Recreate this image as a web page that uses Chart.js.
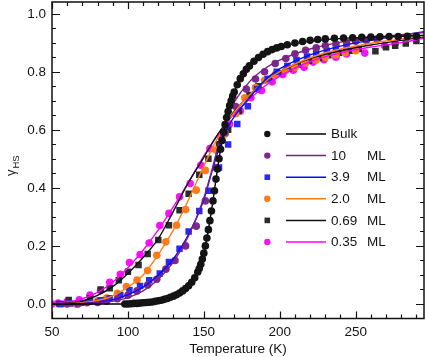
<!DOCTYPE html>
<html>
<head>
<meta charset="utf-8">
<script src="https://cdn.jsdelivr.net/npm/chart.js@4/dist/chart.umd.min.js"></script>
<style>
html,body{margin:0;padding:0;background:#fff;overflow:hidden;}
canvas{display:block;}
</style>
</head>
<body>
<canvas id="c" width="425" height="357"></canvas>
<script>
// ---------- data ----------
const xTickLabels = [50, 100, 150, 200, 250];
const yTickLabels = [0.0, 0.2, 0.4, 0.6, 0.8, 1.0];

const legendLabels = ['Bulk', '10', '3.9', '2.0', '0.69', '0.35'];
const legendUnits  = ['', 'ML', 'ML', 'ML', 'ML', 'ML'];

// Bulk (black circles)
const bulkT = [98,100,102,104,106,108,110,112,114,116,118,120,122,124,126,128,130,132,134,136,138,140,142,144,146,
  147,148,149,150,151,152,153,154,155,156,157,158,159,160,161,162,163,164,165,166,167,168,169,170,
  172,174,176,178,180,183,186,189,192,195,198,201,205,210,215,220,225,230,236,242,248,254,260,266,272,278,284,290];
const bulkY = [0.0,0.0,0.001,0.002,0.002,0.003,0.004,0.005,0.006,0.007,0.009,0.011,0.013,0.016,0.019,0.023,0.027,0.032,0.038,0.045,0.053,0.063,0.075,0.09,0.11,
  0.122,0.137,0.155,0.175,0.2,0.227,0.256,0.287,0.32,0.355,0.39,0.43,0.465,0.5,0.533,0.563,0.592,0.618,0.642,0.663,0.683,0.7,0.716,0.73,
  0.755,0.776,0.793,0.808,0.82,0.836,0.849,0.86,0.869,0.876,0.882,0.887,0.893,0.899,0.904,0.908,0.911,0.913,0.915,0.916,0.917,0.918,0.919,0.92,0.921,0.921,0.922,0.922];

// 10 ML (purple circles)
const ml10T = [60,67,73,80,86,93,100,106,113,119,125,131,138,145,151,158,164,171,178,184,190,197,204,210,217,224,230,237,244,250,257,264];
const ml10Y = [0.0,0.0,0.005,0.005,0.01,0.018,0.03,0.045,0.065,0.085,0.12,0.15,0.2,0.268,0.355,0.47,0.59,0.68,0.74,0.775,0.80,0.828,0.845,0.862,0.874,0.882,0.89,0.895,0.9,0.905,0.908,0.912];

// 3.9 ML (blue squares)
const ml39T = [56,62,69,75,82,88,95,101,108,114,121,127,134,140,147,153,160,166,172,179,185,192,198,205,211,218,224,231,237,244];
const ml39Y = [0.0,0.002,0.004,0.008,0.013,0.02,0.031,0.048,0.062,0.082,0.105,0.145,0.19,0.25,0.32,0.39,0.47,0.549,0.62,0.681,0.74,0.775,0.80,0.82,0.84,0.852,0.862,0.872,0.88,0.886];

// 2.0 ML (orange circles)
const ml20T = [66,73,80,86,93,99,106,113,119,125,132,138,145,151,158,164,171,177,184,190,197,204,210,217,224,230,237,243,250];
const ml20Y = [0.0,0.004,0.011,0.02,0.037,0.06,0.082,0.115,0.168,0.214,0.271,0.325,0.392,0.46,0.53,0.585,0.655,0.71,0.745,0.77,0.79,0.805,0.815,0.83,0.84,0.85,0.858,0.865,0.872];

// 0.69 ML (dark squares)
const ml069T = [55,61,68,75,82,88,94,100,107,113,120,127,134,140,147,153,160,166,173,180,186,193,199,206,212,219,226,232,239,246,252,263,270,276,283,290];
const ml069Y = [0.0,0.014,0.003,0.02,0.05,0.054,0.082,0.111,0.134,0.172,0.22,0.271,0.323,0.38,0.445,0.5,0.55,0.6,0.665,0.72,0.75,0.775,0.795,0.81,0.825,0.838,0.848,0.857,0.865,0.872,0.878,0.87,0.884,0.889,0.897,0.906];

// 0.35 ML (magenta circles)
const ml035T = [50,54,60,68,75,82,88,95,101,108,114,121,127,134,141,148,154,161,167,174,181,188,195,202,209,216,222,229,237,244,256,269,276];
const ml035Y = [0.0,0.003,0.008,0.014,0.031,0.046,0.075,0.102,0.143,0.17,0.21,0.27,0.312,0.369,0.415,0.478,0.535,0.578,0.62,0.665,0.71,0.735,0.765,0.79,0.805,0.815,0.833,0.841,0.85,0.861,0.864,0.89,0.896];

// fitted curves
const bulkFitT = [50,80,95,100,110,120,130,140,145,150,153,156,158,160,162,165,168,172,176,180,190,200,220,240,260,280,295];
const bulkFitY = [0,0,0,0.001,0.004,0.011,0.027,0.063,0.1,0.175,0.256,0.355,0.43,0.5,0.563,0.642,0.7,0.755,0.793,0.82,0.862,0.885,0.905,0.914,0.919,0.922,0.926];
const fitT = [50,60,70,80,90,100,110,120,130,140,150,155,160,165,170,180,190,200,220,240,260,280,295];
const ml10FitY  = [0.0,0.0,0.001,0.004,0.01,0.022,0.045,0.085,0.145,0.235,0.365,0.455,0.555,0.64,0.695,0.765,0.81,0.84,0.878,0.902,0.917,0.927,0.935];
const ml39FitY  = [0.0,0.0,0.002,0.006,0.014,0.032,0.058,0.1,0.155,0.24,0.36,0.45,0.535,0.6,0.645,0.71,0.77,0.81,0.858,0.888,0.908,0.925,0.938];
const ml20FitY  = [0.0,0.001,0.004,0.012,0.028,0.058,0.1,0.17,0.255,0.36,0.475,0.53,0.58,0.625,0.66,0.72,0.765,0.8,0.848,0.878,0.898,0.913,0.925];
const ml069FitY = [0.0,0.003,0.01,0.03,0.06,0.105,0.16,0.225,0.32,0.42,0.505,0.55,0.59,0.628,0.662,0.72,0.765,0.8,0.845,0.872,0.892,0.908,0.92];
const ml035FitY = [0.0,0.006,0.018,0.04,0.075,0.125,0.185,0.255,0.335,0.42,0.51,0.55,0.59,0.625,0.655,0.705,0.75,0.785,0.835,0.865,0.885,0.9,0.915];

// ---------- styling ----------
const C = {
  bulkPt:'#141414', bulkLn:'#000000',
  p10:'#7d2b88', l10:'#7a1f86',
  p39:'#2a2af2', l39:'#0a0aff',
  p20:'#ff7a1e', l20:'#ff7f10',
  p069:'#2c2c2c', l069:'#111111',
  p035:'#f414f4', l035:'#ff00ff'
};
const FONT = '"Liberation Sans", Arial, Helvetica, sans-serif';
const TXT = '#141414';

const zip = (xs, ys) => xs.map((x, i) => ({x, y: ys[i]}));
function pts(label, xs, ys, color, style, r, order){
  return {label, data: zip(xs, ys), showLine:false, pointStyle:style, pointRadius:r, pointHoverRadius:r,
    pointBackgroundColor:color, pointBorderColor:color, pointBorderWidth:0, order};
}
function fit(label, xs, ys, color, order){
  return {label, data: zip(xs, ys), showLine:true, pointRadius:0, borderColor:color, borderWidth:1.4,
    cubicInterpolationMode:'monotone', fill:false, order};
}
const RC = 3.8, RS = 4.6;
const datasets = [
  fit('Bulk fit', bulkFitT, bulkFitY, C.bulkLn, 1),
  pts('Bulk', bulkT, bulkY, C.bulkPt, 'circle', RC, 0),
  fit('10 fit', fitT, ml10FitY, C.l10, 2),
  fit('3.9 fit', fitT, ml39FitY, C.l39, 2),
  fit('2.0 fit', fitT, ml20FitY, C.l20, 2),
  fit('0.69 fit', fitT, ml069FitY, C.l069, 2),
  fit('0.35 fit', fitT, ml035FitY, C.l035, 2),
  pts('10 ML', ml10T, ml10Y, C.p10, 'circle', RC, 3),
  pts('3.9 ML', ml39T, ml39Y, C.p39, 'rect', RS, 3),
  pts('2.0 ML', ml20T, ml20Y, C.p20, 'circle', RC, 3),
  pts('0.69 ML', ml069T, ml069Y, C.p069, 'rect', RS, 3),
  pts('0.35 ML', ml035T, ml035Y, C.p035, 'circle', RC, 3)
];

const legendMarks = [
  ['circle', C.bulkPt, C.bulkLn], ['circle', C.p10, C.l10], ['rect', C.p39, C.l39],
  ['circle', C.p20, C.l20], ['rect', C.p069, C.l069], ['circle', C.p035, C.l035]
];

const deco = {
  id:'deco',
  afterDraw(chart){
    const {ctx, chartArea:a, scales:{x, y}} = chart;
    ctx.save();
    // frame
    ctx.strokeStyle = '#111'; ctx.lineWidth = 1.5;
    ctx.strokeRect(a.left, a.top, a.right - a.left, a.bottom - a.top);
    // inward ticks
    ctx.lineWidth = 1.2;
    ctx.beginPath();
    const xStep = xTickLabels[1] - xTickLabels[0];
    for (let v = x.min; v <= x.max + 1e-6; v += xStep / 5) {
      const px = Math.round(x.getPixelForValue(v)) + 0.5;
      const major = Math.abs(((v - xTickLabels[0]) / xStep) - Math.round((v - xTickLabels[0]) / xStep)) < 1e-6;
      const L = major ? 7 : 4;
      ctx.moveTo(px, a.bottom); ctx.lineTo(px, a.bottom - L);
      ctx.moveTo(px, a.top); ctx.lineTo(px, a.top + L);
    }
    const yStep = yTickLabels[1] - yTickLabels[0];
    for (let k = 0; ; k++) {
      const v = yTickLabels[0] + k * yStep / 4;
      if (v > y.max) break;
      const py = Math.round(y.getPixelForValue(v)) + 0.5;
      const L = (k % 4 === 0) ? 8 : 4;
      ctx.moveTo(a.left, py); ctx.lineTo(a.left + L, py);
      ctx.moveTo(a.right, py); ctx.lineTo(a.right - L, py);
    }
    ctx.stroke();

    // tick labels
    ctx.fillStyle = TXT;
    ctx.font = '13.5px ' + FONT;
    ctx.textAlign = 'center'; ctx.textBaseline = 'top';
    xTickLabels.forEach(v => ctx.fillText(String(v), x.getPixelForValue(v), a.bottom + 7));
    ctx.textAlign = 'right'; ctx.textBaseline = 'middle';
    yTickLabels.forEach(v => ctx.fillText(v.toFixed(1), a.left - 6, y.getPixelForValue(v) + 0.5));

    // x title
    ctx.textAlign = 'center'; ctx.textBaseline = 'middle';
    ctx.fillText('Temperature (K)', (a.left + a.right) / 2, 349);

    // y title: gamma with subscript HS
    ctx.save();
    ctx.translate(15, 176);
    ctx.rotate(-Math.PI / 2);
    ctx.textAlign = 'left'; ctx.textBaseline = 'alphabetic';
    ctx.font = '13px ' + FONT;
    ctx.fillText('γ', 0, 0);
    const gw = ctx.measureText('γ').width;
    ctx.font = '9.5px ' + FONT;
    ctx.fillText('HS', gw + 1, 4);
    ctx.restore();

    // legend
    ctx.font = '13.5px ' + FONT;
    ctx.textAlign = 'left'; ctx.textBaseline = 'middle';
    legendLabels.forEach((lab, i) => {
      const ly = 134 + i * 21.6;
      const [shape, pc, lc] = legendMarks[i];
      ctx.fillStyle = pc;
      if (shape === 'circle') { ctx.beginPath(); ctx.arc(267.3, ly, 3.2, 0, Math.PI * 2); ctx.fill(); }
      else { ctx.fillRect(267.3 - 2.8, ly - 2.8, 5.6, 5.6); }
      ctx.strokeStyle = lc; ctx.lineWidth = 1.5;
      ctx.beginPath(); ctx.moveTo(286, ly); ctx.lineTo(326, ly); ctx.stroke();
      ctx.fillStyle = TXT;
      ctx.fillText(lab, 331, ly + 0.5);
      if (legendUnits[i]) ctx.fillText(legendUnits[i], 367, ly + 0.5);
    });
    ctx.restore();
  }
};

new Chart(document.getElementById('c'), {
  type:'scatter',
  data:{datasets},
  options:{
    responsive:false, animation:false, devicePixelRatio:1,
    layout:{autoPadding:false, padding:{top:2, right:1, left:0, bottom:0}},
    plugins:{legend:{display:false}, tooltip:{enabled:false}},
    scales:{
      x:{
        type:'linear', min:50, max:295,
        grid:{display:false, drawTicks:false}, border:{display:false},
        ticks:{display:false},
        afterFit:(s) => { s.height = 38.5; s.paddingLeft = 0; s.paddingRight = 0; s.paddingTop = 0; s.paddingBottom = 0; }
      },
      y:{
        type:'linear', min:-0.05, max:1.04,
        grid:{display:false, drawTicks:false}, border:{display:false},
        ticks:{display:false},
        afterFit:(s) => { s.width = 52; s.paddingLeft = 0; s.paddingRight = 0; s.paddingTop = 0; s.paddingBottom = 0; }
      }
    }
  },
  plugins:[deco]
});
</script>
</body>
</html>
